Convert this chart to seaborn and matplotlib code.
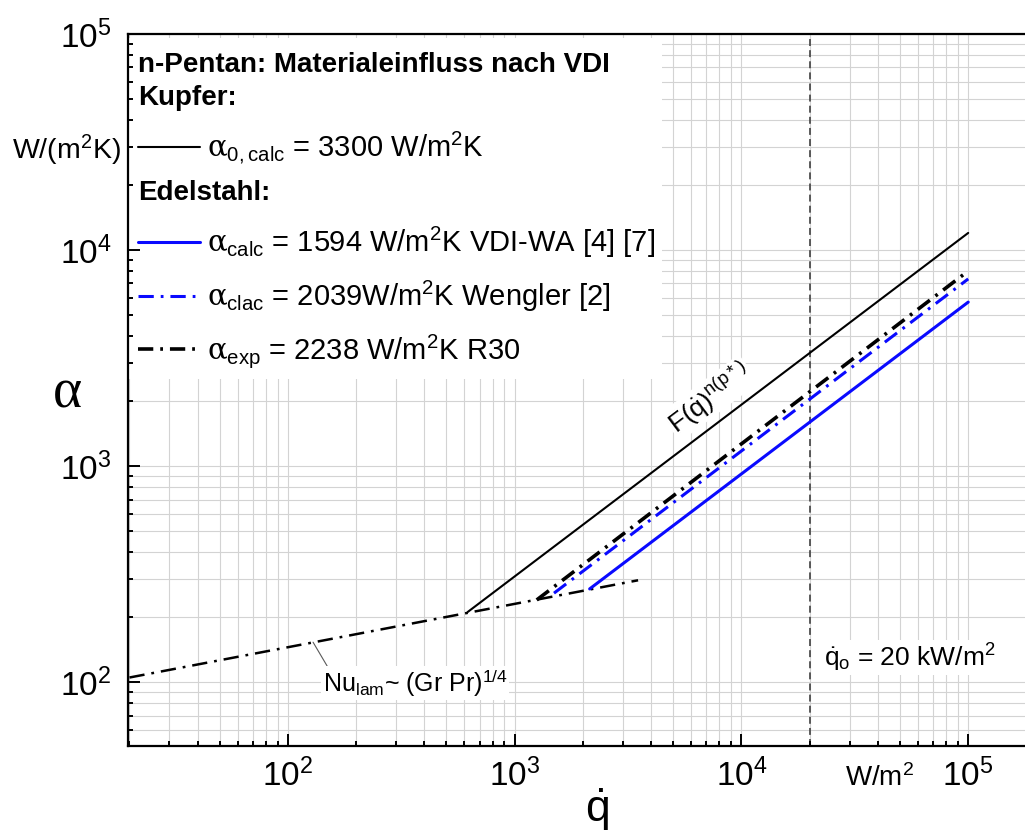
import matplotlib
matplotlib.use("Agg")
import matplotlib.pyplot as plt
from matplotlib.patches import Rectangle
import seaborn as sns
import pandas as pd

# values (log-log straight lines, end points)
q_nu = [20, 3500]          # W/m2, Nu_lam ~ (Gr Pr)^1/4
alpha_nu = [105, 296]
q_cu = [620, 1e5]          # Kupfer alpha_0,calc
alpha_cu = [211, 12000]
q_vdi = [2140, 1e5]        # Edelstahl VDI-WA
alpha_vdi = [270, 5740]
q_weng = [1490, 1e5]       # Edelstahl Wengler
alpha_weng = [258, 7350]
q_exp = [1250, 1e5]        # Edelstahl Messung R30
alpha_exp = [240, 8000]
q_0 = 20000                # reference heat flux

labels = [r"$\alpha_{\mathrm{0,calc}}$ = 3300 W/m$^{\mathrm{2}}$K",
          r"$\alpha_{\mathrm{calc}}$ = 1594 W/m$^{\mathrm{2}}$K VDI-WA [4] [7]",
          r"$\alpha_{\mathrm{clac}}$ = 2039W/m$^{\mathrm{2}}$K Wengler [2]",
          r"$\alpha_{\mathrm{exp}}$ = 2238 W/m$^{\mathrm{2}}$K R30"]

sns.set_theme(style="ticks")
plt.rcParams["font.family"] = ["Liberation Sans", "DejaVu Sans"]
plt.rcParams["mathtext.fontset"] = "custom"
plt.rcParams["mathtext.rm"] = "Liberation Sans"
plt.rcParams["mathtext.it"] = "DejaVu Serif"
plt.rcParams["mathtext.bf"] = "Liberation Sans:bold"
plt.rcParams["lines.scale_dashes"] = False
for k in ["text.color", "axes.labelcolor", "xtick.color", "ytick.color"]:
    plt.rcParams[k] = "black"

rect = [128 / 1025, 90 / 836, 897 / 1025, 712 / 836]
fig = plt.figure(figsize=(10.25, 8.36), dpi=100)
ax = fig.add_axes(rect)
ax.set_xscale("log")
ax.set_yscale("log")

def draw(q, a, **kw):
    df = pd.DataFrame({"q": q, "alpha": a})
    sns.lineplot(data=df, x="q", y="alpha", ax=ax, estimator=None, sort=False,
                 legend=False, zorder=3, **kw)
    return ax.lines[-1]

dd = (0, (11, 5, 2, 5))
blue = "#0a0aff"
draw(q_nu, alpha_nu, color="black", linewidth=1.8, linestyle=dd)
h_cu = draw(q_cu, alpha_cu, color="black", linewidth=1.5)
h_vdi = draw(q_vdi, alpha_vdi, color=blue, linewidth=2.2)
h_weng = draw(q_weng, alpha_weng, color=blue, linewidth=2.2, linestyle=dd)
h_exp = draw(q_exp, alpha_exp, color="black", linewidth=2.6, linestyle=dd)

ax.axvline(q_0, color="#404040", linewidth=1.2, linestyle=(0, (5, 3)), zorder=2)

ax.set_xlim(19.7, 1.78e5)
ax.set_ylim(50.6, 1e5)
ax.set_xlabel("")
ax.set_ylabel("")
ax.grid(True, which="both", color="#d3d3d3", linewidth=0.8)
ax.set_axisbelow(True)
ax.tick_params(which="both", length=0, labelbottom=False, labelleft=False)
for s in ax.spines.values():
    s.set_visible(False)

# overlay axes carrying spines, ticks and tick labels above the legend area
ax2 = fig.add_axes(rect, sharex=ax, sharey=ax)
ax2.patch.set_visible(False)
ax2.grid(False)
for s in ["left", "bottom", "top"]:
    ax2.spines[s].set_linewidth(1.6)
    ax2.spines[s].set_color("black")
ax2.spines["right"].set_visible(False)
ax2.tick_params(which="both", direction="in", color="black", width=1.4,
                bottom=True, left=True, top=False, right=False, labelsize=24)
ax2.tick_params(which="major", length=8.5)
ax2.tick_params(which="minor", length=3.6)
ax2.tick_params(axis="x", which="major", pad=9)
ax2.tick_params(axis="y", which="major", pad=12)

# white legend area
ax.add_patch(Rectangle((0, 0.515), 0.595, 0.4795, transform=ax.transAxes,
                       facecolor="white", edgecolor="none", zorder=1.5))

hdr = dict(transform=ax.transAxes, fontsize=20, fontweight="bold",
           va="center", ha="left", zorder=4)
ax.text(0.011, 0.956, "n-Pentan: Materialeinfluss nach VDI", **hdr)
ax.text(0.011, 0.910, "Kupfer:", **hdr)
ax.text(0.011, 0.777, "Edelstahl:", **hdr)

leg_kw = dict(frameon=False, fontsize=21, handlelength=2.12, handletextpad=0.24,
              borderpad=0, borderaxespad=0.34)
leg1 = ax.legend([h_cu], labels[:1], loc="center left",
                 bbox_to_anchor=(0.0, 0.840), **leg_kw)
ax.add_artist(leg1)
ax.legend([h_vdi, h_weng, h_exp], labels[1:], loc="upper left",
          bbox_to_anchor=(0.0, 0.746), labelspacing=0.64, **leg_kw)

wbox = dict(facecolor="white", edgecolor="none", pad=1)
ax.text(7230, 2066, r"F($\dot{\mathrm{q}}$)$^{\mathrm{n(p*)}}$", rotation=37,
        rotation_mode="anchor", ha="center", va="center", fontsize=19,
        bbox=wbox, zorder=4)
ax.annotate(r"Nu$_{\mathrm{lam}}$~ (Gr Pr)$^{\mathrm{1/4}}$", xy=(129, 153),
            xytext=(142, 90), fontsize=18, ha="left", va="baseline",
            bbox=wbox, zorder=4,
            arrowprops=dict(arrowstyle="-", color="0.35", lw=0.8,
                            shrinkA=0, shrinkB=0, relpos=(0.03, 1.0)))
ax.text(23200, 118, r"$\dot{\mathrm{q}}_{\mathrm{o}}$ = 20 kW/m$^{\mathrm{2}}$",
        fontsize=19, ha="left", va="baseline", bbox=wbox, zorder=4)

ax.text(0.799, -0.056, r"W/m$^{\mathrm{2}}$", transform=ax.transAxes,
        fontsize=20, ha="left", va="baseline")
fig.text(597 / 1025, 1 - 810 / 836, r"$\dot{\mathrm{q}}$", fontsize=32,
         ha="center", va="center")
fig.text(67 / 1025, 1 - 393 / 836, "α", family="Liberation Serif", fontsize=40,
         ha="center", va="center")
fig.text(66 / 1025, 1 - 150 / 836, r"W/(m$^{\mathrm{2}}$K)", fontsize=20.5,
         ha="center", va="center")

fig.savefig("out.png", dpi=100)
